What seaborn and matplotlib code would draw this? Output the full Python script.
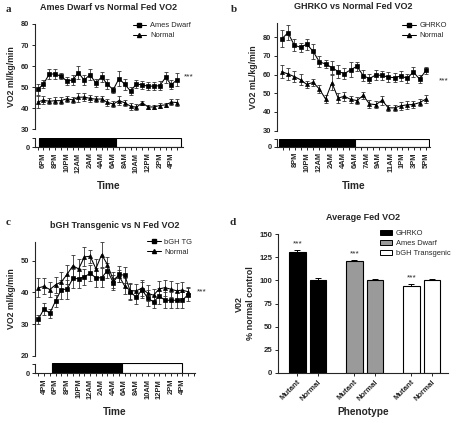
import numpy as np
import pandas as pd
import matplotlib
matplotlib.use("Agg")
import matplotlib.pyplot as plt
import seaborn as sns
from matplotlib.patches import Patch, Rectangle
from matplotlib.lines import Line2D

sns.set_style("ticks")
plt.rcParams["font.family"] = ["Liberation Sans", "DejaVu Sans"]
plt.rcParams["font.weight"] = "bold"
plt.rcParams["axes.labelweight"] = "bold"
plt.rcParams["axes.titleweight"] = "bold"
plt.rcParams["axes.linewidth"] = 0.8
plt.rcParams["xtick.major.width"] = 0.7
plt.rcParams["ytick.major.width"] = 0.7
plt.rcParams["xtick.minor.width"] = 0.7

# ---- panel a: Ames dwarf (hourly from 5PM)
ames_dwarf = [48.9, 51.5, 56.2, 56.3, 55.2, 53.0, 53.4, 56.9, 53.4, 55.9, 52.0, 54.8, 51.4,
              48.8, 54.1, 51.3, 48.1, 51.6, 51.0, 50.5, 50.5, 50.7, 54.6, 51.2, 53.6]
ames_dwarf_err = [2.5, 2, 2.5, 2.5, 1.5, 2, 2.5, 3, 2.5, 2.5, 2, 2.5, 2.5,
                  1.5, 3.5, 2.5, 2, 2, 2, 2, 2, 2, 2.5, 2, 3]
ames_normal = [43.0, 43.8, 43.3, 43.6, 43.6, 44.5, 44.0, 45.2, 45.3, 44.7, 44.3, 44.4, 42.8,
               42.0, 43.6, 42.6, 40.9, 40.5, 42.6, 40.6, 40.6, 41.3, 41.6, 42.9, 42.7]
ames_normal_err = [3, 2, 1.5, 1.5, 1.5, 1.5, 1.5, 2, 2, 1.5, 1.5, 1.5, 1.5,
                   1.5, 2, 1.5, 1.5, 1.5, 1, 1, 1, 1, 1, 1.5, 1.5]
a_labels = ["6PM", "8PM", "10PM", "12AM", "2AM", "4AM", "6AM", "8AM", "10AM", "12PM", "2PM", "4PM"]

# ---- panel b: GHRKO
ghrko = [79.0, 82.3, 75.7, 74.5, 76.2, 72.4, 66.8, 65.6, 63.7, 61.6, 60.5, 62.5,
         64.4, 59.4, 57.8, 59.8, 59.5, 58.6, 58.3, 59.2, 58.0, 61.3, 57.5, 62.2]
ghrko_err = [4.5, 4, 3, 2.5, 3, 4, 3, 2, 3.5, 3.5, 3, 4,
             2.5, 3, 2.5, 2.5, 2.5, 2.5, 2.5, 2.5, 2.5, 2.5, 2, 2]
ghrko_normal = [61.5, 60.3, 58.9, 57.2, 54.7, 55.8, 52.3, 46.9, 55.6, 47.4, 48.4, 46.7,
                46.1, 48.8, 44.3, 43.9, 46.2, 42.2, 42.2, 43.3, 43.8, 44.0, 45.0, 46.9]
ghrko_normal_err = [3.5, 3, 3, 3, 2, 2, 2, 2, 4, 2.5, 2.5, 2,
                    2, 2, 2, 2, 2.5, 1.5, 1.5, 2, 2, 2, 2, 2]
b_labels = ["8PM", "10PM", "12AM", "2AM", "4AM", "6AM", "7AM", "9AM", "11AM", "1PM", "3PM", "5PM"]

# ---- panel c: bGH transgenic (hourly from 3PM)
bgh = [31.5, 34.8, 33.4, 37.3, 40.9, 41.0, 44.4, 44.3, 44.9, 46.0, 44.6, 44.6, 46.9, 43.1,
       45.7, 45.4, 40.2, 38.4, 40.8, 38.2, 37.0, 38.8, 37.5, 37.5, 37.5, 37.5, 39.3]
bgh_err = [1.5, 2, 1.5, 2, 3, 3, 3, 3, 2.5, 2.5, 3, 3, 2.5, 2.5,
           2.5, 2.5, 2.5, 2, 2.5, 2.5, 2, 2.5, 2.5, 2.5, 2.5, 2.5, 2]
bgh_normal = [41.4, 41.9, 40.9, 42.4, 43.3, 45.7, 48.4, 47.4, 51.2, 51.4, 47.5, 51.9, 48.8, 44.0,
              45.2, 42.0, 40.5, 40.5, 41.3, 39.7, 39.1, 41.1, 41.5, 41.0, 40.5, 40.7, 40.2]
bgh_normal_err = [3, 2.5, 2.5, 2.5, 3, 3, 3.5, 3, 3, 2, 3, 4, 2.5, 2.5,
                  2, 2.5, 2.5, 2, 2.5, 2.5, 2, 2.5, 2.5, 2.5, 2.5, 2.5, 1.5]
c_labels = ["4PM", "6PM", "8PM", "10PM", "12AM", "2AM", "4AM", "6AM", "8AM", "10AM", "12PM", "2PM", "4PM"]

# ---- panel d: average fed VO2 (% of normal control)
groups = ["GHRKO", "Ames Dwarf", "bGH Transgenic"]
status = ["Mutant", "Normal"]
avg_vo2 = [[131, 100], [121.5, 100], [94, 100]]
avg_err = [[2, 2.5], [1, 1.5], [2, 2]]
group_colors = ["black", "#9a9a9a", "white"]

W, H = 457, 424


def box(l, t, r, b):
    return [l / W, 1 - b / H, (r - l) / W, (b - t) / H]


fig = plt.figure(figsize=(W / 100, H / 100), dpi=100)
tick_fs = 5.4
msize = 2.9


def time_panel(top, bot, mutant, mutant_err, normal, normal_err, names, ylabel, ylim, yticks,
               xlim, major, minor, labels, dark, light, title, star, leg_anchor):
    ax = fig.add_axes(box(*top))
    axb = fig.add_axes(box(*bot))
    x = np.arange(len(mutant))
    for vals, err, mk in [(mutant, mutant_err, "s"), (normal, normal_err, "^")]:
        ax.errorbar(x, vals, yerr=err, fmt="none", ecolor="#333333", elinewidth=0.6,
                    capsize=1.6, capthick=0.6, zorder=2)
        sns.lineplot(x=x, y=vals, ax=ax, color="black", marker=mk, markersize=msize,
                     markeredgecolor="black", markeredgewidth=0.5, linewidth=0.75, zorder=3)
    ax.set_xlim(*xlim)
    ax.set_ylim(*ylim)
    ax.set_yticks(yticks)
    ax.set_xticks([])
    ax.set_xlabel("")
    ax.tick_params(axis="y", labelsize=tick_fs, length=2.5, pad=1.5)
    sns.despine(ax=ax, bottom=True)
    ax.set_ylabel(ylabel, fontsize=6.3, labelpad=4)
    ax.set_title(title, fontsize=6.5, pad=10)
    ax.text(star[0], star[1], "***", fontsize=6, fontweight="normal", ha="center", va="center")
    handles = [Line2D([], [], color="black", marker="s", markersize=msize, linewidth=0.75),
               Line2D([], [], color="black", marker="^", markersize=msize, linewidth=0.75)]
    ax.legend(handles, names, loc="upper left", bbox_to_anchor=leg_anchor, frameon=False,
              prop={"size": 5.4, "weight": "normal"}, handlelength=1.8, handletextpad=0.5,
              borderpad=0, borderaxespad=0, labelspacing=0.4)

    axb.set_xlim(*xlim)
    axb.set_ylim(0, 1.05)
    axb.add_patch(Rectangle((dark[0], 0), dark[1] - dark[0], 1, facecolor="black",
                            edgecolor="black", linewidth=0.8))
    axb.add_patch(Rectangle((light[0], 0), light[1] - light[0], 1, facecolor="white",
                            edgecolor="black", linewidth=0.8))
    axb.set_yticks([0, 0.95])
    axb.set_yticklabels(["0", ""])
    axb.set_xticks(major)
    axb.set_xticklabels(labels, rotation=90)
    axb.set_xticks(minor, minor=True)
    axb.tick_params(axis="x", which="both", labelsize=tick_fs, length=2.5, pad=1.5)
    axb.tick_params(axis="y", labelsize=tick_fs, length=2.5, pad=1.5)
    axb.spines["left"].set_bounds(0, 0.95)
    sns.despine(ax=axb)
    axb.set_xlabel("Time", fontsize=7.3, labelpad=6)
    return ax, axb


time_panel((35, 24, 183, 129.3), (35, 137.5, 183, 147),
           ames_dwarf, ames_dwarf_err, ames_normal, ames_normal_err, ["Ames Dwarf", "Normal"],
           "VO2 ml/kg/min",
           (30, 80), range(30, 81, 10), (-0.45, 25.0), np.arange(1, 24, 2), np.arange(0, 25),
           a_labels, (0.2, 13.4), (13.4, 24.7), "Ames Dwarf vs Normal Fed VO2",
           (26.0, 55), (0.66, 1.02))

b_major = np.linspace(2.17, 23.06, 12)
b_step = (b_major[1] - b_major[0]) / 2
time_panel((277, 23, 430, 130.7), (277, 138.5, 430, 146.5),
           ghrko, ghrko_err, ghrko_normal, ghrko_normal_err, ["GHRKO", "Normal"],
           "VO2 mL/kg/min",
           (30, 87.5), range(30, 81, 10), (-0.75, 23.65), b_major,
           np.arange(b_major[0] - 2 * b_step, 23.2, b_step),
           b_labels, (-0.48, 11.64), (11.64, 23.44), "GHRKO vs Normal Fed VO2",
           (25.8, 56.6), (0.82, 1.01))

time_panel((35, 241.7, 195, 355.7), (35, 362.5, 195, 373.3),
           bgh, bgh_err, bgh_normal, bgh_normal_err, ["bGH TG", "Normal"],
           "VO2 ml/kg/min",
           (20, 56), range(20, 51, 10), (-0.57, 27.2), np.arange(1, 26, 2), np.arange(0, 28),
           c_labels, (2.32, 14.45), (14.45, 25.0), "bGH Transgenic vs N Fed VO2",
           (28.3, 40), (0.70, 1.03))

# ---- panel d
axd = fig.add_axes(box(278, 234.3, 448, 372.7))
df = pd.DataFrame({
    "group": np.repeat(groups, 2),
    "status": status * 3,
    "vo2": np.ravel(avg_vo2),
    "err": np.ravel(avg_err),
})
sns.barplot(data=df, x="group", y="vo2", hue="status", hue_order=status, order=groups,
            ax=axd, width=0.72, gap=0.2, legend=False, edgecolor="black", linewidth=0.8,
            errorbar=None)
bar_containers = list(axd.containers)
centers = []
for hi, cont in enumerate(bar_containers):
    for gi, bar in enumerate(cont.patches):
        bar.set_facecolor(group_colors[gi])
        bar.set_edgecolor("black")
        cx = bar.get_x() + bar.get_width() / 2
        centers.append((gi, hi, cx))
        row = df[(df.group == groups[gi]) & (df.status == status[hi])].iloc[0]
        axd.errorbar(cx, row.vo2, yerr=[[0], [row.err]], fmt="none", ecolor="black",
                     elinewidth=0.7, capsize=2.5, capthick=0.7)
        if status[hi] == "Mutant":
            axd.text(cx, row.vo2 + row.err + 3, "***", ha="center", va="bottom",
                     fontsize=6, fontweight="normal")
centers.sort()
axd.set_xticks([c[2] for c in centers])
axd.set_xticklabels([status[c[1]] for c in centers], rotation=45, ha="right",
                    rotation_mode="anchor")
axd.set_xlim(-0.52, 2.46)
axd.set_ylim(0, 150)
axd.set_yticks(range(0, 151, 25))
axd.tick_params(labelsize=5.6, length=2.5, pad=1.5)
sns.despine(ax=axd)
axd.set_xlabel("Phenotype", fontsize=7.3, labelpad=4)
axd.set_ylabel("V02\n% normal control", fontsize=6.5, labelpad=3, linespacing=1.3)
axd.set_title("Average Fed VO2", fontsize=6.5, pad=10)
leg_handles = [Patch(facecolor=c, edgecolor="black", linewidth=0.7) for c in group_colors]
axd.legend(leg_handles, groups, loc="upper left", bbox_to_anchor=(0.6, 1.03), frameon=False,
           prop={"size": 5.4, "weight": "normal"}, handlelength=1.6, handleheight=0.7,
           handletextpad=0.5, borderpad=0, borderaxespad=0, labelspacing=0.35)

for letter, (px, py) in zip("abcd", [(8, 10), (234, 10), (8, 222), (233, 222)]):
    fig.text(px / W, 1 - py / H, letter, family=["Liberation Serif", "DejaVu Serif"],
             fontsize=8, fontweight="bold", ha="center", va="center")

fig.savefig("out.png", dpi=100)
